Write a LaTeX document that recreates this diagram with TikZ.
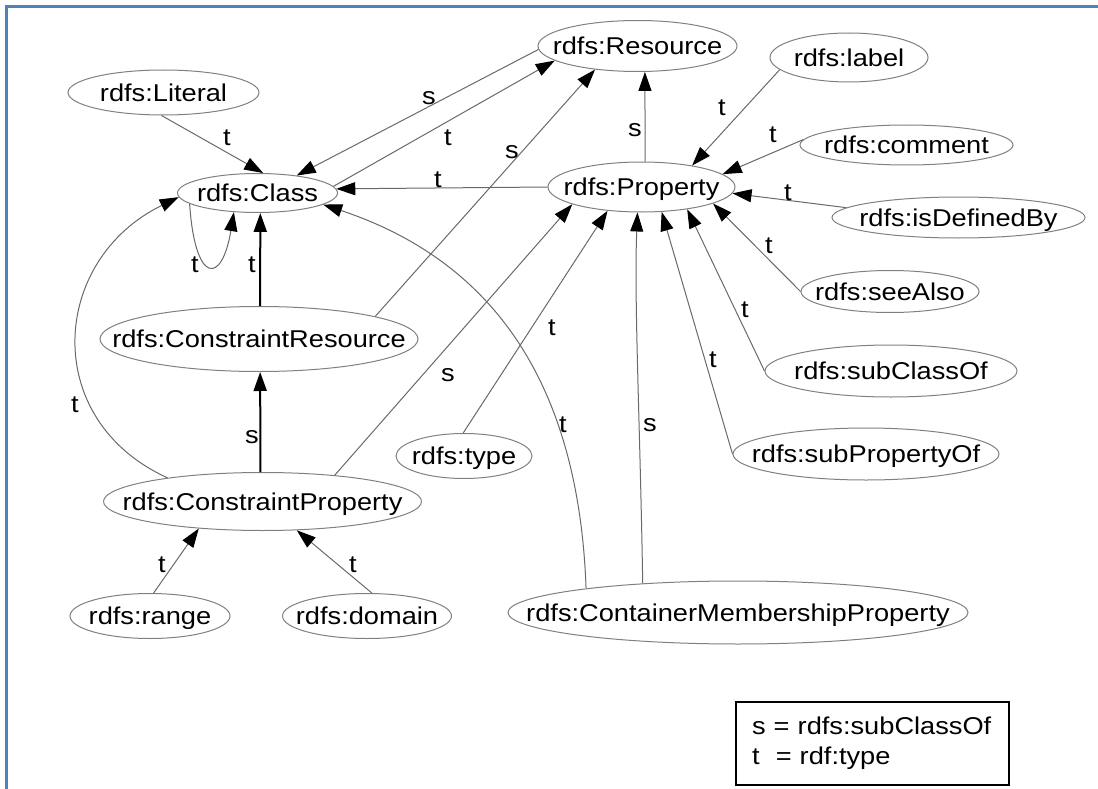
\documentclass[tikz,border=0pt]{standalone}
\usepackage{fontspec}
\setmainfont{Liberation Sans}[FakeStretch=1.12]
\usetikzlibrary{arrows.meta,shapes.geometric}
\definecolor{frameblue}{RGB}{79,129,189}
\definecolor{edgegray}{RGB}{105,105,105}
\definecolor{ellgray}{RGB}{128,128,128}
\newcommand\ntx[1]{\makebox[0pt]{#1}}
\tikzset{
  el/.style={ellipse, draw=ellgray, line width=1pt, inner sep=0pt, text height=22pt, text depth=4.5pt},
  edge/.style={draw=edgegray, line width=1pt, -{Triangle[length=19pt,width=13pt,color=black,fill=black]}},
  bedge/.style={draw=black, line width=2pt, -{Triangle[length=19pt,width=13pt,color=black,fill=black]}},
  lab/.style={inner sep=0pt},
  legendbox/.style={draw=black, line width=1.8pt, minimum width=273pt, minimum height=83pt, inner sep=0pt, align=left, text width=241pt}
}
\begin{document}
\begin{tikzpicture}[x=1pt,y=-1pt,font=\fontsize{24.3}{30}\selectfont]
\useasboundingbox (0,0) rectangle (1098,789);
\draw[frameblue, line width=2.7pt] (6.3,789) -- (6.3,6.3) -- (1098,6.3);

% nodes
\node[el, minimum width=199pt, minimum height=51pt] (res) at (637.5,46) {\ntx{rdfs:Resource}};
\node[el, minimum width=158pt, minimum height=49pt] (lab) at (849,57.5) {\ntx{rdfs:label}};
\node[el, minimum width=191pt, minimum height=45pt] (lit) at (163.5,92.5) {\ntx{rdfs:Literal}};
\node[el, minimum width=160pt, minimum height=39pt] (cls) at (257.5,193) {\ntx{rdfs:Class}};
\node[el, minimum width=187pt, minimum height=50pt] (prop) at (641.5,187) {\ntx{rdfs:Property}};
\node[el, minimum width=213pt, minimum height=40pt] (com) at (906.5,145) {\ntx{rdfs:comment}};
\node[el, minimum width=253pt, minimum height=41pt] (idb) at (958.5,217.5) {\ntx{rdfs:isDefinedBy}};
\node[el, minimum width=178pt, minimum height=42pt] (see) at (890,291.5) {\ntx{rdfs:seeAlso}};
\node[el, minimum width=252pt, minimum height=52pt] (subc) at (891,371) {\ntx{rdfs:subClassOf}};
\node[el, minimum width=266pt, minimum height=52pt] (subp) at (866,454) {\ntx{rdfs:subPropertyOf}};
\node[el, minimum width=460pt, minimum height=63pt] (cmp) at (738,612.5) {\ntx{rdfs:ContainerMembershipProperty}};
\node[el, minimum width=318pt, minimum height=65pt] (cr) at (259,339) {\ntx{rdfs:ConstraintResource}};
\node[el, minimum width=318pt, minimum height=58pt] (cp) at (262.5,501.5) {\ntx{rdfs:ConstraintProperty}};
\node[el, minimum width=136pt, minimum height=45pt] (type) at (464,456) {\ntx{rdfs:type}};
\node[el, minimum width=160pt, minimum height=45pt] (rng) at (150,616) {\ntx{rdfs:range}};
\node[el, minimum width=169pt, minimum height=45pt] (dom) at (367,616) {\ntx{rdfs:domain}};

% edges
\draw[edge] (lit.265) -- (cls.74);
\node[lab] (l1) at (227,138) {t};
\draw[edge] (res.182.3) -- (cls.24.6);
\node[lab] (l2) at (429,98) {s};
\draw[edge] (cls.5.7) -- (res.190.8);
\node[lab] (l3) at (448,138) {t};
\draw[edge] (prop.180.8) -- (cls.3);
\node[lab] (l4) at (438,180) {t};
\draw[edge] (prop.82) -- (res.286.5);
\node[lab] (l5) at (635,130) {s};
\draw[edge] (cr.11.2) -- (res.209.5);
\node[lab] (l6) at (512,152) {s};
\draw[edge] (cls.189.7) .. controls (195,285) and (222,285) .. (cls.219.7);
\node[lab] (l7) at (195,265) {t};
\draw[bedge] (cr.88.2) -- (cls.-82.7);
\node[lab] (l8) at (252,265) {t};
\draw[edge] (cp.166.3) .. controls (40,420) and (50,260) .. (cls.183);
\node[lab] (l9) at (75,405) {t};
\draw[bedge] (cp.94.9) -- (cr.-88.2);
\node[lab] (l10) at (252,437) {s};
\draw[edge] (cp.20.7) -- (prop.194.3);
\node[lab] (l11) at (448,375) {s};
\draw[edge] (cmp.171.2) .. controls (580,420) and (520,270) .. (cls.-10.6);
\node[lab] (l12) at (563,425) {t};
\draw[edge] (type.92) -- (prop.215.3);
\node[lab] (l13) at (552,328) {t};
\draw[edge] (cmp.163.4) .. controls (640,420) and (634,300) .. (prop.261);
\node[lab] (l14) at (650,425) {s};
\draw[edge] (subp.180) -- (prop.309.3);
\node[lab] (l15) at (713,360) {t};
\draw[edge] (subc.180) -- (prop.334.3);
\node[lab] (l16) at (745,310) {t};
\draw[edge] (see.180) -- (prop.347.5);
\node[lab] (l17) at (769,246) {t};
\draw[edge] (idb.175) -- (prop.356);
\node[lab] (l18) at (788,193) {t};
\draw[edge] (com.177) -- (prop.9.3);
\node[lab] (l19) at (773,135) {t};
\draw[edge] (lab.190) -- (prop.23.8);
\node[lab] (l20) at (722,108) {t};
\draw[edge] (rng.81.7) -- (cp.203.1);
\node[lab] (l21) at (162,565) {t};
\draw[edge] (dom.78.2) -- (cp.320.4);
\node[lab] (l22) at (353,565) {t};

% legend
\node[legendbox] (legend) at (872.5,743.5) {s = rdfs:subClassOf\\t\ \ = rdf:type};
\end{tikzpicture}
\end{document}
